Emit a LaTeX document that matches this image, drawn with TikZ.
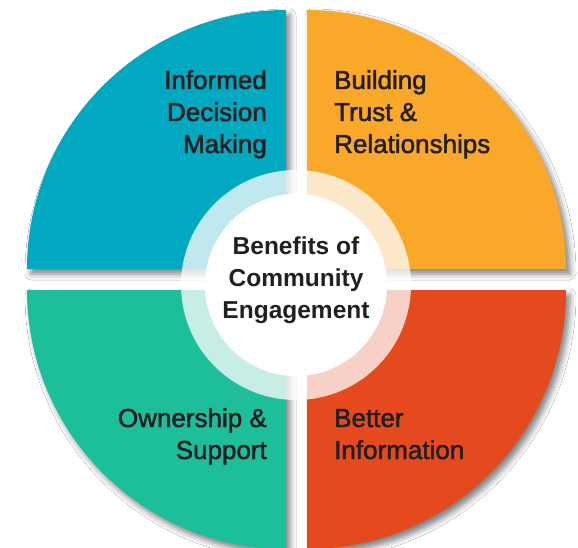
\documentclass[tikz,border=0pt]{standalone}
\usepackage{fontspec}
\setmainfont{Liberation Sans}
\newfontfamily\labelfont{Liberation Sans}[FakeBold=1.8]
\usetikzlibrary{shadows.blur}
\definecolor{qblue}{HTML}{00A9C0}
\definecolor{qorange}{HTML}{F9A82A}
\definecolor{qteal}{HTML}{1DBF9A}
\definecolor{qred}{HTML}{E54A1E}
\definecolor{txt}{HTML}{231F20}
\tikzset{
  quad/.style={blur shadow={shadow xshift=4pt, shadow yshift=-5pt, shadow blur radius=6pt, shadow opacity=50}},
  lbl/.style={inner sep=0pt, text=txt, font=\labelfont\fontsize{26}{32}\selectfont},
  ctr/.style={inner sep=0pt, text=txt, align=center, font=\bfseries\fontsize{24.5}{32}\selectfont}
}
\begin{document}
\begin{tikzpicture}[x=1pt,y=-1pt]
\useasboundingbox (0,0) rectangle (578,548);
\fill[white] (0,0) rectangle (578,548);
% quadrants
\fill[qblue, quad] (286,269) -- ++(-259,0) arc[start angle=180, end angle=270, radius=259] -- cycle;
\fill[qorange, quad] (307,269) -- ++(259,0) arc[start angle=0, end angle=-90, radius=259] -- cycle;
\fill[qteal, quad] (286,290) -- ++(-259,0) arc[start angle=180, end angle=90, radius=259] -- cycle;
\fill[qred, quad] (307,290) -- ++(259,0) arc[start angle=0, end angle=90, radius=259] -- cycle;
% ring
\fill[white, opacity=0.75] (296,285) circle[radius=115];
\fill[white] (296,285) circle[radius=91];
% labels
\node[lbl, align=right, anchor=base east] (idm) at (267,153) {Informed\\Decision\\Making};
\node[lbl, align=left, anchor=base west] (btr) at (334,153) {Building\\Trust \&\\Relationships};
\node[lbl, align=right, anchor=base east] (os) at (267,459) {Ownership \&\\Support};
\node[lbl, align=left, anchor=base west] (bi) at (334,459) {Better\\Information};
\node[ctr, anchor=base] (center) at (296,318) {Benefits of\\Community\\Engagement};
\end{tikzpicture}
\end{document}
